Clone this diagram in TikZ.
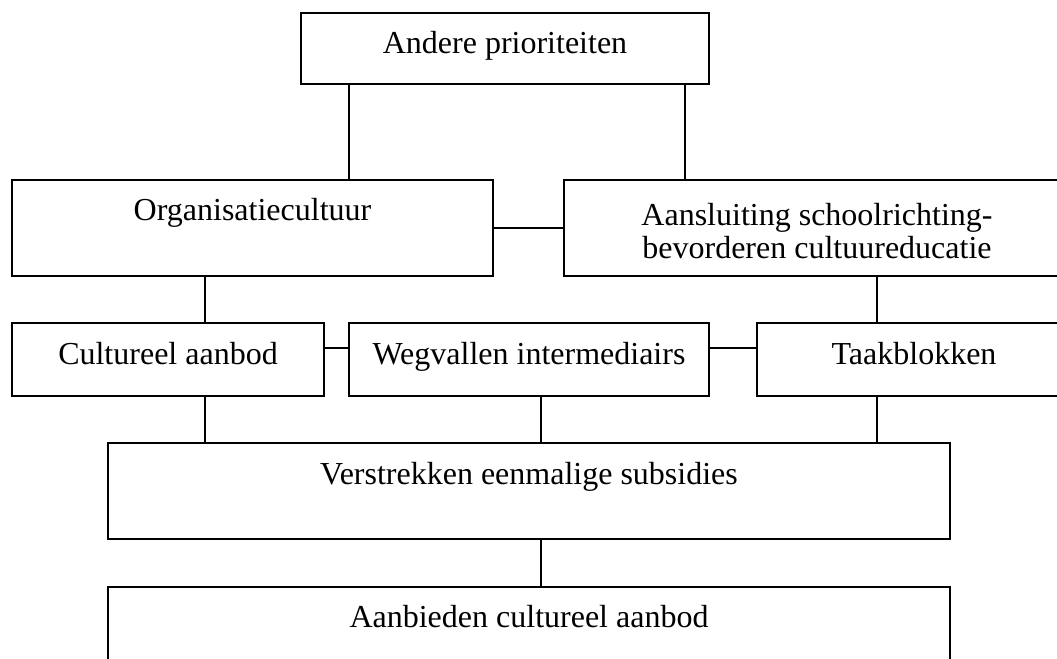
\documentclass[tikz,border=0pt]{standalone}
\usepackage{fontspec}
\setmainfont{Liberation Serif}
\usetikzlibrary{fit}
\begin{document}
\begin{tikzpicture}[x=0.75pt,y=-0.75pt,
  box/.style={draw=black, line width=1.1pt, inner sep=0pt, fill=white},
  lbl/.style={anchor=base, inner sep=0pt, font=\fontsize{24}{24.5}\selectfont, align=center},
  conn/.style={draw=black, line width=1.1pt}]
\useasboundingbox (0,0) rectangle (1057,659);
\clip (0,0) rectangle (1057,659);
% boxes
\node[box, fit={(301,13)(709,84)}] (andere) {};
\node[box, fit={(12,180)(493,276)}] (org) {};
\node[box, fit={(564,180)(1070,276)}] (aans) {};
\node[box, fit={(12,323)(324,396)}] (cult) {};
\node[box, fit={(349,323)(709,396)}] (weg) {};
\node[box, fit={(757,323)(1070,396)}] (taak) {};
\node[box, fit={(108,443)(950,539)}] (verst) {};
\node[box, fit={(108,587)(950,683)}] (aanb) {};
% labels
\node[lbl] (tandere) at (505,54) {Andere prioriteiten};
\node[lbl] (torg) at (252.5,221) {Organisatiecultuur};
\node[lbl, anchor=north] (taans) at (817,203) {Aansluiting schoolrichting-\\bevorderen cultuureducatie};
\node[lbl] (tcult) at (168,364) {Cultureel aanbod};
\node[lbl] (tweg) at (529,364) {Wegvallen intermediairs};
\node[lbl] (ttaak) at (914,364) {Taakblokken};
\node[lbl] (tverst) at (529,484) {Verstrekken eenmalige subsidies};
\node[lbl] (taanb) at (529,627) {Aanbieden cultureel aanbod};
% connector positions
\coordinate (xa) at (349,0);
\coordinate (xb) at (685,0);
\coordinate (xc) at (205,0);
\coordinate (xd) at (877,0);
\coordinate (xe) at (541,0);
\coordinate (ya) at (0,228);
\coordinate (yb) at (0,348);
% connectors
\draw[conn] (andere.south -| xa) -- (org.north -| xa);
\draw[conn] (andere.south -| xb) -- (aans.north -| xb);
\draw[conn] (org.east |- ya) -- (aans.west |- ya);
\draw[conn] (org.south -| xc) -- (cult.north -| xc);
\draw[conn] (aans.south -| xd) -- (taak.north -| xd);
\draw[conn] (cult.east |- yb) -- (weg.west |- yb);
\draw[conn] (weg.east |- yb) -- (taak.west |- yb);
\draw[conn] (cult.south -| xc) -- (verst.north -| xc);
\draw[conn] (weg.south -| xe) -- (verst.north -| xe);
\draw[conn] (taak.south -| xd) -- (verst.north -| xd);
\draw[conn] (verst.south -| xe) -- (aanb.north -| xe);
\end{tikzpicture}
\end{document}
